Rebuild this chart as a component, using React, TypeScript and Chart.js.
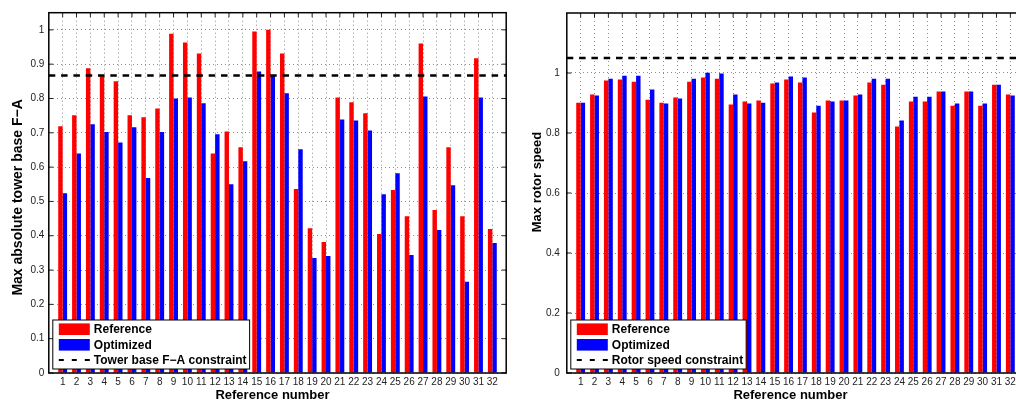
import React, { useEffect, useRef } from "react";
import { Chart, registerables } from "chart.js";

Chart.register(...registerables);

// ---------------- data ----------------
const referenceNumbers = [
  1, 2, 3, 4, 5, 6, 7, 8, 9, 10, 11, 12, 13, 14, 15, 16,
  17, 18, 19, 20, 21, 22, 23, 24, 25, 26, 27, 28, 29, 30, 31, 32,
];

const towerReference = [
  0.719, 0.751, 0.888, 0.868, 0.85, 0.751, 0.745, 0.771, 0.989, 0.963, 0.931, 0.64, 0.704, 0.658, 0.995, 1.0,
  0.931, 0.536, 0.422, 0.382, 0.803, 0.789, 0.757, 0.405, 0.533, 0.457, 0.96, 0.475, 0.658, 0.457, 0.917, 0.42,
];
const towerOptimized = [
  0.524, 0.64, 0.725, 0.702, 0.672, 0.716, 0.568, 0.702, 0.8, 0.803, 0.786, 0.696, 0.55, 0.617, 0.879, 0.867,
  0.815, 0.652, 0.335, 0.341, 0.739, 0.736, 0.707, 0.521, 0.582, 0.344, 0.806, 0.417, 0.547, 0.266, 0.803, 0.379,
];
const towerConstraint = 0.867;
const towerYTicks = [0, 0.1, 0.2, 0.3, 0.4, 0.5, 0.6, 0.7, 0.8, 0.9, 1];

const rotorReference = [
  0.901, 0.928, 0.975, 0.978, 0.971, 0.911, 0.901, 0.918, 0.971, 0.985, 0.981, 0.895, 0.905, 0.908, 0.965, 0.978,
  0.968, 0.868, 0.908, 0.908, 0.925, 0.968, 0.961, 0.822, 0.905, 0.905, 0.938, 0.891, 0.938, 0.891, 0.961, 0.928,
];
const rotorOptimized = [
  0.901, 0.925, 0.981, 0.991, 0.991, 0.945, 0.898, 0.915, 0.981, 1.001, 0.998, 0.928, 0.898, 0.901, 0.968, 0.988,
  0.985, 0.891, 0.905, 0.908, 0.928, 0.981, 0.981, 0.842, 0.921, 0.921, 0.938, 0.898, 0.938, 0.898, 0.961, 0.925,
];
const rotorConstraint = 1.05;
const rotorYTicks = [0, 0.2, 0.4, 0.6, 0.8, 1];

const seriesLabels = ["Reference", "Optimized"];
const xAxisTitle = "Reference number";

// ---------------- styling ----------------
const FONT = '"Liberation Sans", Arial, Helvetica, sans-serif';
const CANVAS_W = 520;
const CANVAS_H = 401;

const fmt = (v: number) => String(Math.round(v * 100) / 100);

const framePlugin = {
  id: "matlabFrame",
  afterDatasetsDraw(chart: any, _args: any, opts: any) {
    const { ctx, chartArea: a } = chart;
    const xs = chart.scales.x;
    const ys = chart.scales.y;
    ctx.save();

    // inward tick marks
    ctx.strokeStyle = "#222";
    ctx.lineWidth = 1;
    ctx.setLineDash([]);
    ctx.beginPath();
    xs.ticks.forEach((t: any) => {
      const px = xs.getPixelForValue(t.value);
      ctx.moveTo(px, a.top);
      ctx.lineTo(px, a.top + 4.5);
    });
    ys.ticks.forEach((t: any) => {
      const py = ys.getPixelForValue(t.value);
      ctx.moveTo(a.left, py);
      ctx.lineTo(a.left + 4.5, py);
      ctx.moveTo(a.right, py);
      ctx.lineTo(a.right - 4.5, py);
    });
    ctx.stroke();

    // axes box
    ctx.strokeStyle = "#000";
    ctx.lineWidth = 1.5;
    ctx.strokeRect(a.left, a.top, a.right - a.left, a.bottom - a.top);

    // legend
    const ds = chart.data.datasets;
    ctx.font = `bold 12px ${FONT}`;
    const maxW = Math.max(...ds.map((d: any) => ctx.measureText(d.label).width));
    const L = a.left + 4;
    const H = 49;
    const T = a.bottom - 4 - H;
    const W = 41 + maxW + 3;
    ctx.fillStyle = "#fff";
    ctx.fillRect(L, T, W, H);
    ctx.strokeStyle = "#000";
    ctx.lineWidth = 1;
    ctx.strokeRect(L, T, W, H);
    const rows = [T + 9.2, T + 24.8, T + 40];
    ds.forEach((d: any, i: number) => {
      const cy = rows[i];
      if (d.type === "line") {
        ctx.strokeStyle = "#000";
        ctx.lineWidth = 2;
        ctx.setLineDash([5, 8]);
        ctx.beginPath();
        ctx.moveTo(L + 6, cy);
        ctx.lineTo(L + 37, cy);
        ctx.stroke();
        ctx.setLineDash([]);
      } else {
        ctx.fillStyle = d.backgroundColor;
        ctx.fillRect(L + 6, cy - 5.8, 31, 11.6);
      }
      ctx.fillStyle = "#000";
      ctx.textAlign = "left";
      ctx.textBaseline = "middle";
      ctx.fillText(d.label, L + 41, cy + 0.5);
    });

    // axis titles
    ctx.fillStyle = "#000";
    ctx.textAlign = "center";
    ctx.textBaseline = "middle";
    ctx.font = `bold 13px ${FONT}`;
    ctx.fillText(opts.xTitle, (a.left + a.right) / 2 - 5, 395.5);
    ctx.save();
    ctx.translate(opts.yTitleX, opts.yTitleY);
    ctx.rotate(-Math.PI / 2);
    ctx.font = `bold ${opts.yTitleSize}px ${FONT}`;
    ctx.fillText(opts.yTitle, 0, 0);
    ctx.restore();

    ctx.restore();
  },
};

type Panel = {
  reference: number[];
  optimized: number[];
  constraint: number;
  constraintLabel: string;
  yMax: number;
  yTicks: number[];
  yTickPad: number;
  yTitle: string;
  yTitleSize: number;
  yTitleX: number;
  yTitleY: number;
};

function makeConfig(p: Panel): any {
  const tickFont = { family: FONT, size: 10 };
  return {
    type: "bar",
    data: {
      datasets: [
        {
          type: "bar",
          label: seriesLabels[0],
          data: referenceNumbers.map((n, i) => ({ x: n, y: p.reference[i] })),
          backgroundColor: "#ff0000",
          borderWidth: 0,
          categoryPercentage: 0.64,
          barPercentage: 1,
        },
        {
          type: "bar",
          label: seriesLabels[1],
          data: referenceNumbers.map((n, i) => ({ x: n, y: p.optimized[i] })),
          backgroundColor: "#0000ff",
          borderWidth: 0,
          categoryPercentage: 0.64,
          barPercentage: 1,
        },
        {
          type: "line",
          label: p.constraintLabel,
          data: [
            { x: 0, y: p.constraint },
            { x: referenceNumbers.length + 1, y: p.constraint },
          ],
          borderColor: "#000",
          borderWidth: 2.5,
          borderDash: [6.5, 5.8],
          pointRadius: 0,
          fill: false,
          order: -1,
        },
      ],
    },
    options: {
      responsive: false,
      animation: false,
      events: [],
      layout: { padding: { left: 0, top: 12.7, right: CANVAS_W - 48.8 - 457.4, bottom: 0 } },
      plugins: {
        legend: { display: false },
        tooltip: { enabled: false },
        title: { display: false },
        matlabFrame: {
          xTitle: xAxisTitle,
          yTitle: p.yTitle,
          yTitleSize: p.yTitleSize,
          yTitleX: p.yTitleX,
          yTitleY: p.yTitleY,
        },
      },
      scales: {
        x: {
          type: "linear",
          offset: false,
          min: 0,
          max: referenceNumbers.length + 1,
          afterBuildTicks: (s: any) => {
            s.ticks = referenceNumbers.map((v) => ({ value: v }));
          },
          afterFit: (s: any) => {
            s.height = CANVAS_H - 373;
          },
          ticks: {
            autoSkip: false,
            maxRotation: 0,
            minRotation: 0,
            padding: 3,
            color: "#222",
            font: tickFont,
            callback: (v: any) => String(v),
          },
          grid: { offset: false, color: "#8c8c8c", lineWidth: 1, drawTicks: false, tickLength: 0 },
          border: { display: false, dash: [1, 3] },
        },
        y: {
          type: "linear",
          min: 0,
          max: p.yMax,
          afterBuildTicks: (s: any) => {
            s.ticks = p.yTicks.map((v) => ({ value: v }));
          },
          afterFit: (s: any) => {
            s.width = 48.8;
          },
          ticks: {
            padding: p.yTickPad,
            color: "#222",
            font: tickFont,
            callback: (v: any) => fmt(v),
          },
          grid: { color: "#8c8c8c", lineWidth: 1, drawTicks: false, tickLength: 0 },
          border: { display: false, dash: [1, 3] },
        },
      },
    },
    plugins: [framePlugin],
  };
}

const towerPanel: Panel = {
  reference: towerReference,
  optimized: towerOptimized,
  constraint: towerConstraint,
  constraintLabel: "Tower base F\u2212A constraint",
  yMax: 1.05,
  yTicks: towerYTicks,
  yTickPad: 4.5,
  yTitle: "Max absolute tower base F\u2212A",
  yTitleSize: 14,
  yTitleX: 18,
  yTitleY: 197.4,
};

const rotorPanel: Panel = {
  reference: rotorReference,
  optimized: rotorOptimized,
  constraint: rotorConstraint,
  constraintLabel: "Rotor speed constraint",
  yMax: 1.2,
  yTicks: rotorYTicks,
  yTickPad: 7,
  yTitle: "Max rotor speed",
  yTitleSize: 13,
  yTitleX: 19.3,
  yTitleY: 182,
};

function ChartPanel({ panel, left }: { panel: Panel; left: number }) {
  const ref = useRef<HTMLCanvasElement | null>(null);
  useEffect(() => {
    if (!ref.current) return;
    const chart = new Chart(ref.current, makeConfig(panel));
    return () => chart.destroy();
  }, [panel]);
  return (
    <div style={{ position: "absolute", left, top: 0, width: CANVAS_W, height: CANVAS_H }}>
      <canvas ref={ref} width={CANVAS_W} height={CANVAS_H} style={{ display: "block" }} />
    </div>
  );
}

export default function App() {
  return (
    <div
      style={{
        position: "fixed",
        left: 0,
        top: 0,
        width: 1016,
        height: 401,
        overflow: "hidden",
        background: "#fff",
      }}
    >
      <ChartPanel panel={towerPanel} left={0} />
      <ChartPanel panel={rotorPanel} left={518} />
    </div>
  );
}
